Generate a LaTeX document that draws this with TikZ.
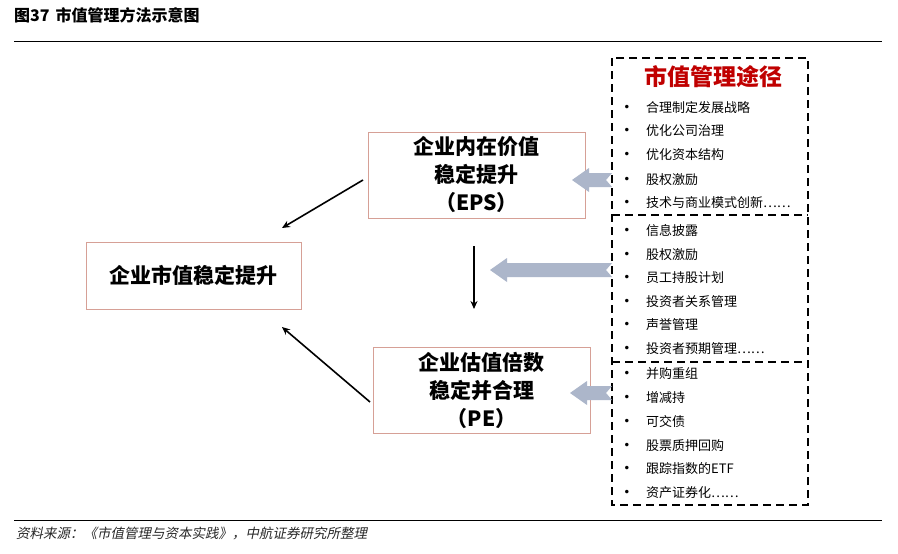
\documentclass[tikz,border=0pt]{standalone}
\usepackage{fontspec}
\setmainfont{Noto Sans CJK SC}
\newfontfamily\cjkit[FakeSlant=0.2]{Noto Sans CJK SC}
\newfontfamily\symfont{DejaVu Sans}
\usetikzlibrary{arrows.meta}
\definecolor{boxline}{RGB}{214,160,150}
\definecolor{bigarrow}{RGB}{172,182,202}
\definecolor{titlered}{RGB}{192,0,0}
\definecolor{srcgray}{RGB}{40,40,40}
\tikzset{
  valbox/.style={draw=boxline, line width=0.8pt, fill=white, font=\fontsize{21}{28}\selectfont\bfseries, align=center, inner sep=0pt},
  listitem/.style={anchor=west, font=\fontsize{13}{15}\selectfont, inner sep=0pt},
  bulletmark/.style={font=\symfont\fontsize{12}{14}\selectfont, inner sep=0pt},
  dashbox/.style={draw=black, line width=2.4pt, dash pattern=on 8pt off 5pt},
  thinarrow/.style={draw=black, line width=1.6pt, -{Stealth[length=8pt,width=7pt]}},
  blockarrow/.style={fill=bigarrow, draw=none}
}
\begin{document}
\begin{tikzpicture}[x=1pt,y=-1pt]
\useasboundingbox (0,0) rectangle (898,554);
\fill[white] (0,0) rectangle (898,554);
% header
\node[anchor=west, inner sep=0pt, font=\fontsize{16}{18}\selectfont\bfseries] (title) at (14,15) {图37\hspace{6pt}市值管理方法示意图};
\draw[line width=0.9pt] (14,41) -- (882,41);
\draw[line width=0.9pt] (14,520) -- (882,520);
\node[anchor=west, inner sep=0pt, text=srcgray, font=\fontsize{13.5}{15}\selectfont\cjkit] (src) at (16,533) {资料来源：《市值管理与资本实践》，中航证券研究所整理};

% main boxes
\node[valbox, minimum width=215pt, minimum height=67pt] (A) at (193.5,275.5) {企业市值稳定提升};
\node[valbox, minimum width=217pt, minimum height=86pt] (B) at (476.5,175) {企业内在价值\\稳定提升\\（EPS）};
\node[valbox, minimum width=217pt, minimum height=86pt] (C) at (481.5,390) {企业估值倍数\\稳定并合理\\（PE）};

% dashed container
\coordinate (dtl) at (612,58);
\coordinate (dbr) at (808,505);
\draw[dashbox] (dtl) rectangle (dbr);
\draw[dashbox] (612,215) -- (808,215);
\draw[dashbox] (612,362) -- (808,362);
\node[inner sep=0pt, text=titlered, font=\fontsize{23}{26}\selectfont\bfseries] (ptitle) at (713,77) {市值管理途径};

% list items
\foreach \y/\t [count=\i] in {108/合理制定发展战略, 131/优化公司治理, 155/优化资本结构, 180/股权激励, 203/技术与商业模式创新……,
  231/信息披露, 255/股权激励, 278/员工持股计划, 302/投资者关系管理, 325/声誉管理, 349/投资者预期管理……,
  374/并购重组, 398/增减持, 422/可交债, 446/股票质押回购, 469/跟踪指数的ETF, 493/资产证券化……}{
  \node[bulletmark] (b\i) at (627,\y) {•};
  \node[listitem] (t\i) at (646,\y) {\t};
}

% thin black arrows
\coordinate (s1) at (363,180);
\coordinate (e1) at (282,228);
\coordinate (s2) at (370,402);
\coordinate (e2) at (282,327);
\coordinate (s3) at (474,246);
\coordinate (e3) at (474,309);
\draw[thinarrow] (s1) -- (e1);
\draw[thinarrow] (s2) -- (e2);
\draw[thinarrow] (s3) -- (e3);

% block arrows (tip x, tail x, centre y)
\foreach \tip/\tail/\yc in {572/612/180, 490/612/270, 570/612/393}{
  \fill[blockarrow] (\tip,\yc) -- (\tip+17,\yc-12) -- (\tip+17,\yc-7) -- (\tail,\yc-7)
     -- (\tail-6,\yc) -- (\tail,\yc+7) -- (\tip+17,\yc+7) -- (\tip+17,\yc+12) -- cycle;
}
\end{tikzpicture}
\end{document}
